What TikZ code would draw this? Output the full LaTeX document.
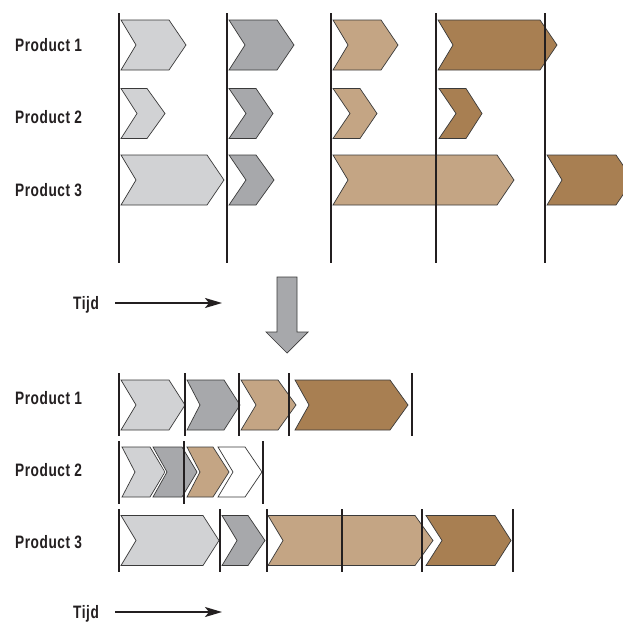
\documentclass[tikz,border=0pt]{standalone}
\usepackage{fontspec}
\setmainfont[FakeStretch=0.76,LetterSpace=3]{Liberation Sans}
\usetikzlibrary{arrows.meta}
\definecolor{lgray}{HTML}{D1D2D4}
\definecolor{dgray}{HTML}{A7A8AB}
\definecolor{tan}{HTML}{C4A584}
\definecolor{brn}{HTML}{A87F52}
\definecolor{ink}{HTML}{231F20}
\definecolor{edge}{HTML}{3A3A3A}
\tikzset{
  chevhalo/.style={draw=white, line width=2.6pt, line join=miter},
  chevbody/.style={draw=edge, line width=0.7pt, line join=miter},
  divider/.style={draw=ink, line width=2.1pt},
  rowlabel/.style={anchor=base west, inner sep=0pt, text=ink, font=\fontsize{18pt}{20pt}\selectfont\bfseries},
  timearrow/.style={draw=ink, line width=1.8pt, -{Stealth[length=17pt,width=10pt,inset=4pt]}},
  bigarrow/.style={fill=dgray, draw=edge, line width=0.7pt, line join=miter}
}
% #1 colour, #2 left, #3 notch, #4 right of straight edge, #5 tip, #6 centre y
\newcommand{\chv}[6]{%
  \path[chevhalo] (#2,{#6-25}) -- (#4,{#6-25}) -- (#5,#6) -- (#4,{#6+25}) -- (#2,{#6+25}) -- (#3,#6) -- cycle;
  \filldraw[chevbody, fill=#1] (#2,{#6-25}) -- (#4,{#6-25}) -- (#5,#6) -- (#4,{#6+25}) -- (#2,{#6+25}) -- (#3,#6) -- cycle;}
\newcommand{\vln}[3]{\draw[divider] (#1,#2) -- (#1,#3);}
\begin{document}
\begin{tikzpicture}[x=1pt, y=-1pt]
\clip (0,0) rectangle (623,621);
\fill[white] (0,0) rectangle (623,621);

% ---------- top section ----------
\node[rowlabel] (t1) at (15,51.5) {Product 1};
\node[rowlabel] (t2) at (15,123.5) {Product 2};
\node[rowlabel] (t3) at (15,196) {Product 3};

% Product 1
\chv{lgray}{121}{136}{169}{186}{45}
\chv{dgray}{229}{245}{277}{294}{45}
\chv{tan}{333}{348}{381}{398}{45}
\chv{brn}{438}{453}{540}{557}{45}
% Product 2
\chv{lgray}{121}{137}{147}{165}{113.5}
\chv{dgray}{229}{246}{256}{273}{113.5}
\chv{tan}{333}{350}{360}{377}{113.5}
\chv{brn}{439}{456}{466}{482}{113.5}
% Product 3
\chv{lgray}{121}{136}{207}{224}{180}
\chv{dgray}{229}{246}{256}{274}{180}
\chv{tan}{333}{348}{497}{514}{180}
\chv{brn}{547}{562}{616}{633}{180}

\vln{119}{13}{263}
\vln{227}{13}{263}
\vln{331}{13}{263}
\vln{436}{13}{263}
\vln{545}{13}{263}

\node[rowlabel] (tijd1) at (73,309.5) {Tijd};
\coordinate (a1s) at (115,303);
\coordinate (a1e) at (222,303);
\draw[timearrow] (a1s) -- (a1e);

% big down arrow
\filldraw[bigarrow] (277,277) -- (297,277) -- (297,332) -- (308,332) -- (287,353) -- (266,332) -- (277,332) -- cycle;

% ---------- bottom section ----------
\node[rowlabel] (b1) at (15,404.5) {Product 1};
\node[rowlabel] (b2) at (15,476.5) {Product 2};
\node[rowlabel] (b3) at (15,548.5) {Product 3};

% Product 1
\chv{lgray}{121}{136}{169}{185}{405}
\chv{dgray}{187}{200}{224}{240}{405}
\chv{tan}{241}{256}{278}{296}{405}
\chv{brn}{295}{309}{390}{408}{405}
\vln{119}{373}{436}
\vln{185}{373}{436}
\vln{239}{373}{436}
\vln{289}{373}{436}
\vln{412}{373}{436}

% Product 2
\chv{lgray}{122}{135}{150}{165}{472}
\chv{dgray}{153}{167}{182}{197}{472}
\chv{tan}{187}{200}{213}{229}{472}
\chv{white}{218}{233}{245}{262}{472}
\vln{119}{441}{504}
\vln{184}{441}{504}
\vln{263}{441}{504}

% Product 3
\chv{lgray}{121}{136}{203}{219}{540.5}
\chv{dgray}{222}{237}{248}{265}{540.5}
\chv{tan}{268}{283}{415}{433}{540.5}
\chv{brn}{426}{442}{495}{511}{540.5}
\vln{119}{509}{572}
\vln{220}{509}{572}
\vln{267}{509}{572}
\vln{342}{509}{572}
\vln{422}{509}{572}
\vln{513}{509}{572}

\node[rowlabel] (tijd2) at (73,618.5) {Tijd};
\coordinate (a2s) at (115,612);
\coordinate (a2e) at (222,612);
\draw[timearrow] (a2s) -- (a2e);
\end{tikzpicture}
\end{document}
